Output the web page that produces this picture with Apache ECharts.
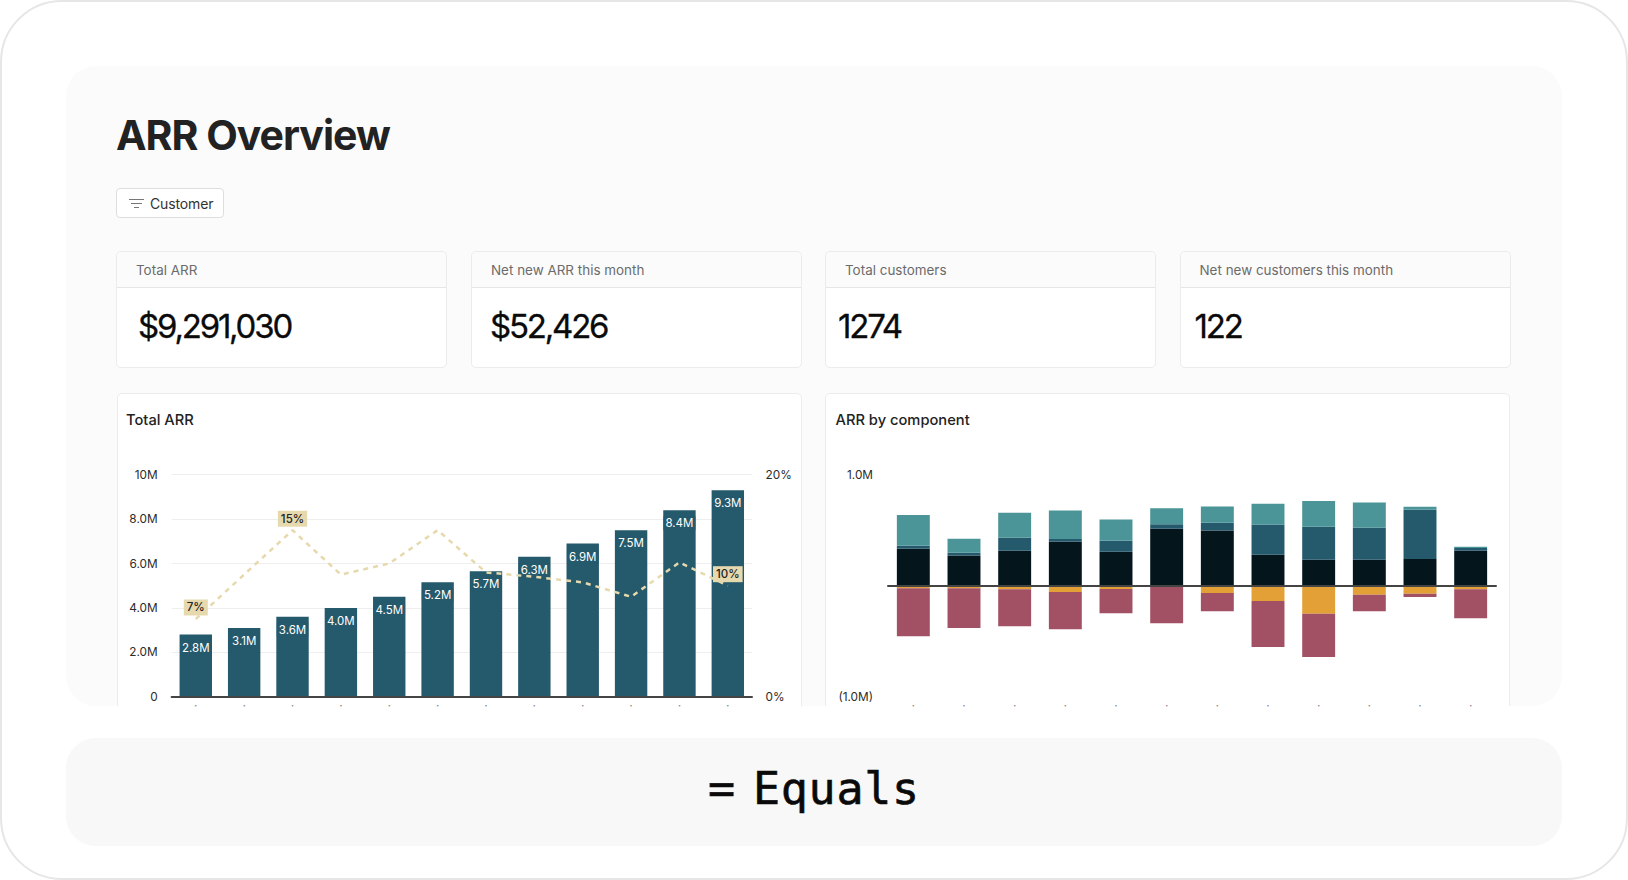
<!DOCTYPE html>
<html><head><meta charset="utf-8">
<style>
html,body{margin:0;padding:0;background:#fff;width:1628px;height:880px;overflow:hidden;font-family:Inter,"Liberation Sans",sans-serif}
.abs{position:absolute;box-sizing:border-box}
#frame{left:0;top:0;width:1628px;height:880px;border:2px solid #e6e6e6;border-radius:62px}
#panel{left:66px;top:66px;width:1496px;height:640px;background:#fbfbfb;border-radius:30px}
#foot{left:66px;top:738px;width:1496px;height:108px;background:#f8f8f8;border-radius:30px}
#title{left:116px;top:110px;font-size:41px;line-height:50px;font-weight:700;letter-spacing:-1px;color:#222;white-space:nowrap}
#filter{left:116px;top:188px;width:108px;height:30px;background:#fff;border:1px solid #dedede;border-radius:4px}
#filter span{position:absolute;left:33px;top:0;line-height:29px;font-size:14px;color:#333;letter-spacing:-.13px}
#filter i{position:absolute;background:#777;height:1px;display:block}
.card{background:#fff;border:1px solid #ececec;border-radius:5px}
.kpi{top:250.5px;height:117.5px;width:331px}
.kpi .h{position:absolute;left:0;right:0;top:0;height:35px;background:#fbfbfb;border-bottom:1px solid #e6e6e6;border-radius:5px 5px 0 0;line-height:36px;font-size:13.45px;color:#6b6b6b;white-space:nowrap}
.kpi .h span{position:absolute}
.kpi .v{position:absolute;top:54px;font-family:Inter,sans-serif;font-size:33px;line-height:40px;letter-spacing:-2.2px;color:#0b0b0b;white-space:nowrap;-webkit-text-stroke:.3px #0b0b0b}
.big{top:392.5px;height:345px;width:685px}
#clip{left:66px;top:66px;width:1496px;height:640px;overflow:hidden;border-radius:0 0 30px 30px}
#chart{left:0;top:0;width:1628px;height:730px}
.eq{font-family:"DejaVu Sans Mono",monospace;font-size:45px;line-height:50px;color:#0a0a0a;white-space:nowrap;-webkit-text-stroke:.6px #0a0a0a}
</style></head>
<body>
<div class="abs" id="frame"></div>
<div class="abs" id="panel"></div>
<div class="abs" id="clip">
  <div class="abs card big" style="left:50.5px;top:326.5px;width:685px"></div>
  <div class="abs card big" style="left:759px;top:326.5px;width:685px"></div>
</div>
<div class="abs" id="title">ARR Overview</div>
<div class="abs" id="filter"><i style="left:12px;top:10px;width:15px"></i><i style="left:14px;top:14px;width:11px"></i><i style="left:17px;top:18px;width:5px"></i><span>Customer</span></div>
<div id="kpis"></div>
<div class="abs" id="foot"></div>
<div class="abs eq" style="left:708px;top:764px">=</div>
<div class="abs eq" style="left:753px;top:764px;letter-spacing:.7px">Equals</div>
<div class="abs" id="chart"></div>
<script src="https://cdn.jsdelivr.net/npm/echarts@6/dist/echarts.min.js"></script>
<script>
const kpiLabels = ["Total ARR","Net new ARR this month","Total customers","Net new customers this month"];
const kpiValues = ["$9,291,030","$52,426","1274","122"];
const months = ["Jan","Feb","Mar","Apr","May","Jun","Jul","Aug","Sep","Oct","Nov","Dec"];
const totalArr = [2.8,3.1,3.6,4.0,4.5,5.15,5.65,6.3,6.9,7.5,8.4,9.3];
const growthPct = [7,11,15,11,12,15,11.2,10.8,10.3,9,12.1,10];
const growthLabelled = [0,2,11];
const newBiz = [0.333,0.273,0.315,0.396,0.306,0.514,0.498,0.279,0.234,0.234,0.240,0.315];
const expansion = [0.027,0.024,0.117,0.024,0.099,0.039,0.069,0.273,0.297,0.288,0.444,0.024];
const reactivation = [0.276,0.126,0.225,0.258,0.192,0.144,0.147,0.186,0.231,0.228,0.027,0.012];
const contraction = [-0.024,-0.024,-0.033,-0.057,-0.030,0,-0.066,-0.138,-0.252,-0.081,-0.072,-0.033];
const churn = [-0.432,-0.357,-0.333,-0.336,-0.219,-0.339,-0.165,-0.414,-0.390,-0.150,-0.030,-0.261];

const kpiLayout = [[116,20,22],[471,20,19],[825,20,13],[1179.5,20,15]];
document.getElementById('kpis').innerHTML = kpiLabels.map((t,i)=>{
  const [x,hx,vx]=kpiLayout[i];
  return `<div class="abs card kpi" style="left:${x}px"><div class="h"><span style="left:${hx-1}px">${t}</span></div><div class="v" style="left:${vx-1}px">${kpiValues[i]}</div></div>`;
}).join('');

const FONT='Inter';
const axisText={fontFamily:FONT,fontSize:11.8,color:'#2b2b2b'};
const tipLabel={show:true,margin:2.3,fontFamily:FONT,fontSize:12,color:'#888',interval:0,formatter:()=>'·'};
const DARK='#25596c', SAND='#e6d9ae';
const chart=echarts.init(document.getElementById('chart'),null,{renderer:'svg'});
const stackBar=(name,data,color,extra)=>Object.assign({name,type:'bar',stack:'c',xAxisIndex:2,yAxisIndex:2,data,barWidth:'65%',
  itemStyle:{color},emphasis:{disabled:true}},extra||{});
chart.setOption({
  animation:false,
  title:[
    {text:'Total ARR',left:126,top:412,padding:0,textStyle:{fontFamily:FONT,fontSize:14.7,fontWeight:500,color:'#222'}},
    {text:'ARR by component',left:835.5,top:412,padding:0,textStyle:{fontFamily:FONT,fontSize:14.7,fontWeight:500,color:'#222'}}
  ],
  grid:[
    {left:171.6,top:474.7,width:580.4,height:222,outerBoundsMode:'none',containLabel:false},
    {left:888,top:474.7,width:608,height:222,outerBoundsMode:'none',containLabel:false}
  ],
  xAxis:[
    {type:'category',gridIndex:0,data:months,axisLine:{lineStyle:{color:'#444',width:2}},axisTick:{show:false},axisLabel:tipLabel,z:5},
    {type:'category',gridIndex:1,data:months,position:'top',axisLine:{onZero:true,lineStyle:{color:'#444',width:2}},axisTick:{show:false},axisLabel:{show:false},z:5},
    {type:'category',gridIndex:1,data:months,position:'bottom',axisLine:{show:false,onZero:false},axisTick:{show:false},axisLabel:tipLabel}
  ],
  yAxis:[
    {type:'value',gridIndex:0,min:0,max:10,interval:2,axisLine:{show:false},axisTick:{show:false},
      splitLine:{lineStyle:{color:'#eeeeee',width:1}},
      axisLabel:Object.assign({margin:14,formatter:v=>v===0?'0':(v===10?'10M':v.toFixed(1)+'M')},axisText)},
    {type:'value',gridIndex:0,position:'right',min:0,max:20,interval:20,axisLine:{show:false},axisTick:{show:false},splitLine:{show:false},
      axisLabel:Object.assign({margin:13.5,formatter:'{value}%'},axisText)},
    {type:'value',gridIndex:1,min:-1,max:1,interval:1,axisLine:{show:false},axisTick:{show:false},splitLine:{show:false},
      axisLabel:Object.assign({margin:15,formatter:v=>v===1?'1.0M':(v===-1?'(1.0M)':'')},axisText)}
  ],
  series:[
    {name:'Total ARR',type:'bar',xAxisIndex:0,yAxisIndex:0,data:totalArr,barWidth:'67%',itemStyle:{color:DARK},emphasis:{disabled:true},z:2,
      label:{show:true,position:'insideTop',distance:6,formatter:p=>p.value.toFixed(1)+'M',fontFamily:FONT,fontSize:11.5,color:'#fff',backgroundColor:DARK,padding:[1,2]}},
    {name:'Growth',type:'line',xAxisIndex:0,yAxisIndex:1,z:3,symbol:'circle',symbolSize:0.01,showSymbol:true,showAllSymbol:true,
      lineStyle:{color:SAND,width:2.5,type:[5,5]},itemStyle:{color:SAND},emphasis:{disabled:true},
      data:growthPct.map((v,i)=>({value:v,label:{show:growthLabelled.includes(i)}})),
      label:{position:'top',distance:3.5,formatter:p=>Math.round(p.value)+'%',fontFamily:FONT,fontSize:11.5,fontWeight:500,color:'#222',backgroundColor:SAND,padding:[2,3]}},
    stackBar('New business',newBiz,'#04151c'),
    stackBar('Expansion',expansion,'#25596c'),
    stackBar('Reactivation',reactivation,'#4b9498'),
    stackBar('Contraction',contraction,'#e3a037'),
    stackBar('Churn',churn,'#a25063')
  ]
});
</script>
</body></html>
